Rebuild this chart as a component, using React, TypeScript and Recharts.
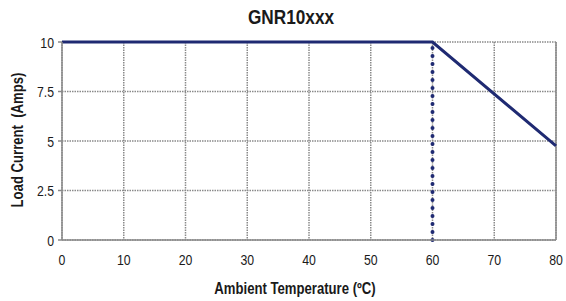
import React from "react";
import { LineChart, Line, XAxis, YAxis, CartesianGrid, ReferenceLine } from "recharts";

const temperatures = [0, 60, 80];
const loadCurrent = [10, 10, 4.75];
const xTicks = [0, 10, 20, 30, 40, 50, 60, 70, 80];
const yTicks = [0, 2.5, 5, 7.5, 10];
const deratingStart = 60;

const data = temperatures.map((t, i) => ({ t, a: loadCurrent[i] }));

const FONT = "'Liberation Sans', Arial, sans-serif";
const NAVY = "#1f2a72";
const GRID = "#8a8a8a";
const TEXT = "#1a1a1a";
const NARROW = 0.82;

const XTick = (props: any) => {
  const { x, y, payload } = props;
  return (
    <text
      transform={`translate(${x},${y + 23}) scale(${NARROW},1)`}
      textAnchor="middle"
      fill={TEXT}
      fontSize={15}
      fontFamily={FONT}
    >
      {payload.value}
    </text>
  );
};

const YTick = (props: any) => {
  const { x, y, payload } = props;
  return (
    <text
      transform={`translate(${x - 2},${y + 5.5}) scale(${NARROW},1)`}
      textAnchor="end"
      fill={TEXT}
      fontSize={15}
      fontFamily={FONT}
    >
      {payload.value}
    </text>
  );
};

const labelStyle: React.CSSProperties = {
  position: "absolute",
  fontFamily: FONT,
  fontWeight: "bold",
  color: TEXT,
  whiteSpace: "pre",
  lineHeight: 1,
};

export default function App() {
  return (
    <div style={{ position: "absolute", left: 0, top: 0, width: 566, height: 301, background: "#fff", fontFamily: FONT }}>
      <LineChart width={566} height={301} data={data} margin={{ top: 42, right: 10, bottom: 0, left: 0 }}>
        <CartesianGrid stroke={GRID} strokeDasharray="1.5 1" strokeWidth={1.5} horizontalValues={yTicks} verticalValues={xTicks} />
        <XAxis
          dataKey="t"
          type="number"
          domain={[0, 80]}
          ticks={xTicks}
          height={61}
          stroke={GRID}
          strokeWidth={1.5}
          tickSize={0}
          tick={<XTick />}
        />
        <YAxis
          type="number"
          domain={[0, 10]}
          ticks={yTicks}
          width={62}
          stroke={GRID}
          strokeWidth={1.5}
          tickSize={4}
          tick={<YTick />}
        />
        <ReferenceLine x={80} stroke={GRID} strokeWidth={1.5} />
        <ReferenceLine x={deratingStart} stroke={NAVY} strokeWidth={4} strokeDasharray="0 8" strokeLinecap="round" />
        <Line type="linear" dataKey="a" stroke={NAVY} strokeWidth={3} dot={false} isAnimationActive={false} />
      </LineChart>
      <div style={{ ...labelStyle, left: 191, top: 6, width: 200, textAlign: "center", fontSize: 21, transform: `scaleX(${NARROW})` }}>
        GNR10xxx
      </div>
      <div style={{ ...labelStyle, left: 95, top: 281, width: 400, textAlign: "center", fontSize: 16, transform: `scaleX(${NARROW})` }}>
        Ambient Temperature (ºC)
      </div>
      <div
        style={{
          ...labelStyle,
          left: 18 - 100,
          top: 140 - 8,
          width: 200,
          height: 16,
          textAlign: "center",
          fontSize: 16,
          transform: `rotate(-90deg) scaleX(${NARROW})`,
          transformOrigin: "50% 50%",
        }}
      >
        Load Current  (Amps)
      </div>
    </div>
  );
}
